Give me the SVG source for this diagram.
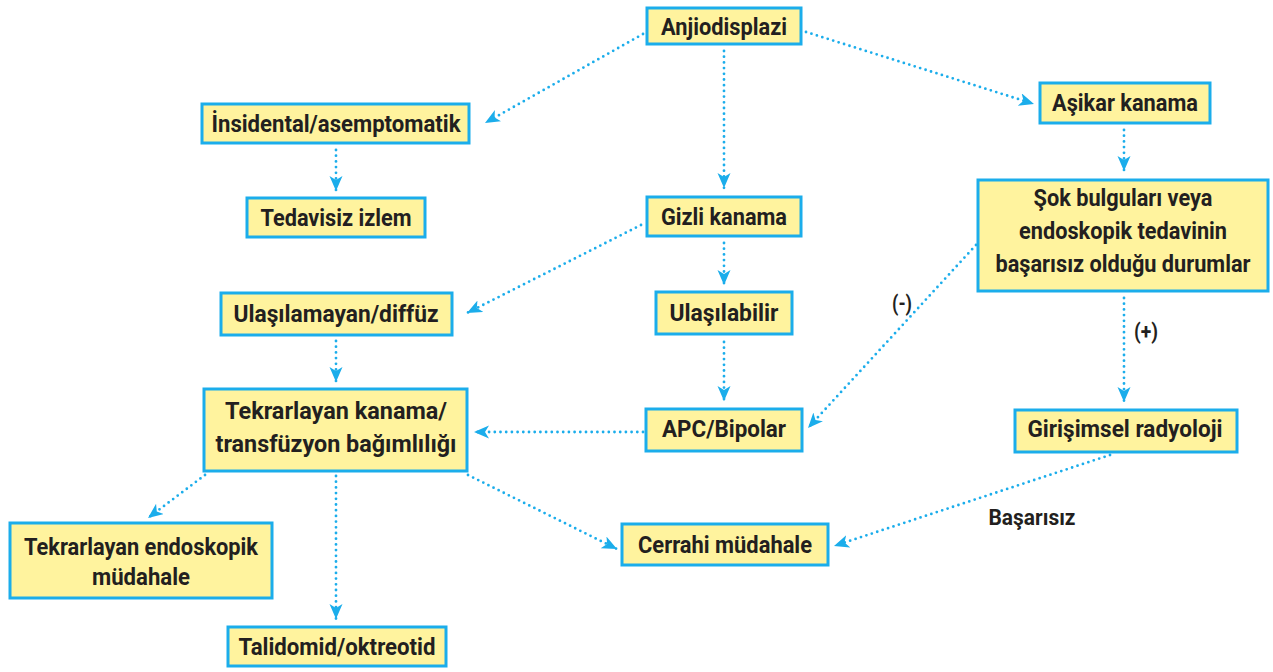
<svg xmlns="http://www.w3.org/2000/svg" width="1273" height="672" viewBox="0 0 1273 672">
<defs>
<style>
.box{fill:#fff39e;stroke:#1badeb;stroke-width:3}
.t{font-family:Roboto,"Liberation Sans",sans-serif;font-weight:bold;font-size:23.5px;fill:#231f20;text-anchor:middle}
.l{font-family:Roboto,"Liberation Sans",sans-serif;font-weight:bold;font-size:22px;fill:#231f20;text-anchor:middle}
.c{fill:none;stroke:#1badeb;stroke-width:2.8;stroke-linecap:round;stroke-dasharray:0 5.7;marker-end:url(#ah)}
</style>
<marker id="ah" markerUnits="userSpaceOnUse" markerWidth="16" markerHeight="14" refX="15" refY="6.5" orient="auto">
<path d="M0,0 L15,6.5 L0,13 L4,6.5 Z" fill="#1badeb"/>
</marker>
</defs>
<rect width="1273" height="672" fill="#ffffff"/>
<g id="connectors">
<path class="c" d="M643,34 L485,123"/>
<path class="c" d="M724,51 L724,188"/>
<path class="c" d="M806,32 L1034,104"/>
<path class="c" d="M336,150 L336,191"/>
<path class="c" d="M1124,130 L1124,171"/>
<path class="c" d="M641,225 L467,313"/>
<path class="c" d="M724,243 L724,285"/>
<path class="c" d="M336,341 L336,382"/>
<path class="c" d="M724,342 L724,401"/>
<path class="c" d="M976,245 L808,428"/>
<path class="c" d="M1124,298 L1124,402"/>
<path class="c" d="M643,432 L474,432"/>
<path class="c" d="M205,475 L148,518"/>
<path class="c" d="M336,476 L336,619"/>
<path class="c" d="M468,475 L617,549"/>
<path class="c" d="M1110,455 L834,546"/>
<text class="l" x="902" y="311" textLength="20" lengthAdjust="spacingAndGlyphs">(-)</text>
<text class="l" x="1146" y="339" textLength="24" lengthAdjust="spacingAndGlyphs">(+)</text>
<text class="l" x="1032" y="525" textLength="87" lengthAdjust="spacingAndGlyphs">Başarısız</text>
</g>
<g id="n1"><rect class="box" x="647" y="8" width="154" height="36"/><text class="t" x="724" y="35" textLength="126" lengthAdjust="spacingAndGlyphs">Anjiodisplazi</text></g>
<g id="n2"><rect class="box" x="202" y="104" width="267" height="39"/><text class="t" x="336" y="132" textLength="249" lengthAdjust="spacingAndGlyphs">İnsidental/asemptomatik</text></g>
<g id="n3"><rect class="box" x="1040" y="83" width="170" height="40"/><text class="t" x="1125" y="111" textLength="146" lengthAdjust="spacingAndGlyphs">Aşikar kanama</text></g>
<g id="n4"><rect class="box" x="247" y="198" width="178" height="39"/><text class="t" x="336" y="226" textLength="151" lengthAdjust="spacingAndGlyphs">Tedavisiz izlem</text></g>
<g id="n5"><rect class="box" x="647" y="197" width="154" height="39"/><text class="t" x="724" y="225" textLength="126" lengthAdjust="spacingAndGlyphs">Gizli kanama</text></g>
<g id="n6"><rect class="box" x="978" y="180" width="290" height="111"/>
<text class="t" x="1123" y="206" textLength="179" lengthAdjust="spacingAndGlyphs">Şok bulguları veya</text>
<text class="t" x="1123" y="239" textLength="208" lengthAdjust="spacingAndGlyphs">endoskopik tedavinin</text>
<text class="t" x="1123" y="272" textLength="255" lengthAdjust="spacingAndGlyphs">başarısız olduğu durumlar</text></g>
<g id="n7"><rect class="box" x="221" y="293" width="231" height="42"/><text class="t" x="336" y="322" textLength="205" lengthAdjust="spacingAndGlyphs">Ulaşılamayan/diffüz</text></g>
<g id="n8"><rect class="box" x="656" y="292" width="136" height="42"/><text class="t" x="724" y="321" textLength="109" lengthAdjust="spacingAndGlyphs">Ulaşılabilir</text></g>
<g id="n9"><rect class="box" x="204" y="389" width="263" height="82"/>
<text class="t" x="336" y="419" textLength="222" lengthAdjust="spacingAndGlyphs">Tekrarlayan kanama/</text>
<text class="t" x="336" y="452" textLength="241" lengthAdjust="spacingAndGlyphs">transfüzyon bağımlılığı</text></g>
<g id="n10"><rect class="box" x="646" y="409" width="156" height="42"/><text class="t" x="724" y="437" textLength="124" lengthAdjust="spacingAndGlyphs">APC/Bipolar</text></g>
<g id="n11"><rect class="box" x="1015" y="410" width="222" height="42"/><text class="t" x="1125" y="437" textLength="195" lengthAdjust="spacingAndGlyphs">Girişimsel radyoloji</text></g>
<g id="n12"><rect class="box" x="622" y="524" width="206" height="41"/><text class="t" x="725" y="553" textLength="174" lengthAdjust="spacingAndGlyphs">Cerrahi müdahale</text></g>
<g id="n13"><rect class="box" x="10" y="523" width="262" height="75"/>
<text class="t" x="141" y="555" textLength="234" lengthAdjust="spacingAndGlyphs">Tekrarlayan endoskopik</text>
<text class="t" x="141" y="585" textLength="98" lengthAdjust="spacingAndGlyphs">müdahale</text></g>
<g id="n14"><rect class="box" x="228" y="627" width="218" height="39"/><text class="t" x="337" y="655" textLength="197" lengthAdjust="spacingAndGlyphs">Talidomid/oktreotid</text></g>
</svg>
